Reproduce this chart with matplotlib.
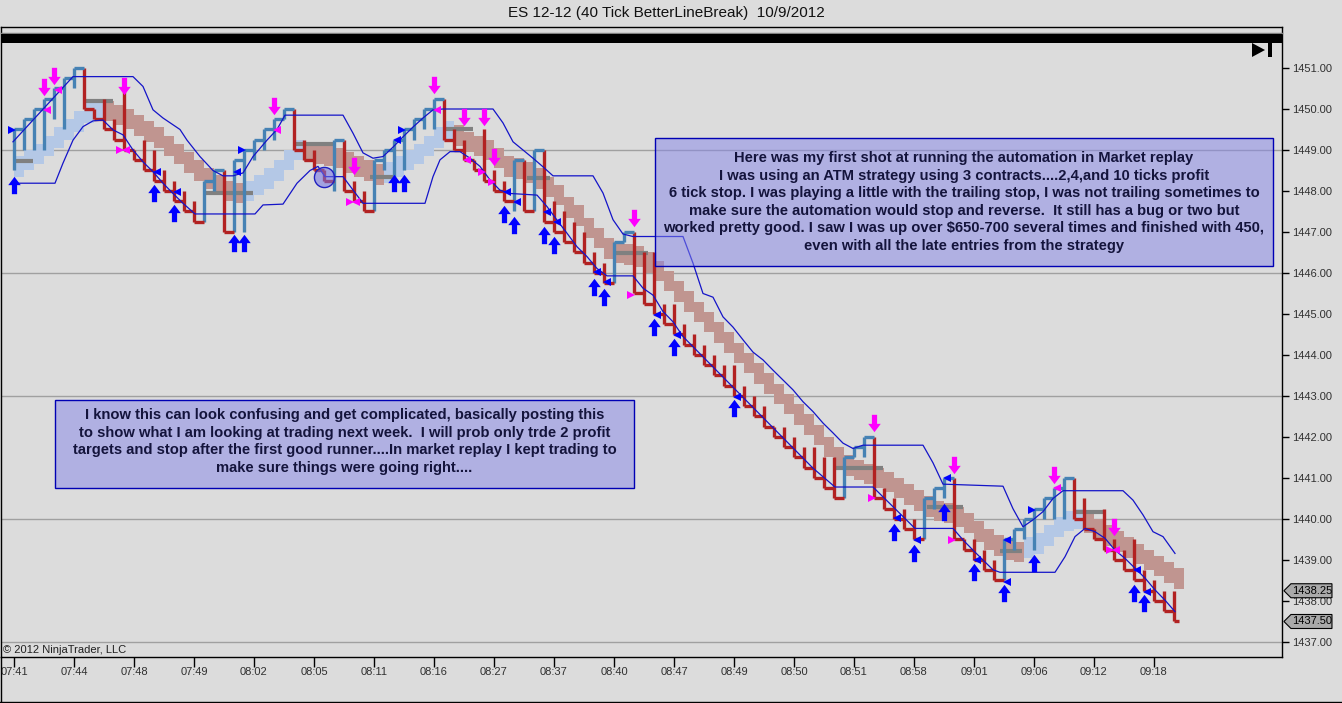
import matplotlib
matplotlib.use("Agg")
import matplotlib.pyplot as plt
import numpy as np
from matplotlib.path import Path
from matplotlib.patches import Rectangle, Polygon

plt.rcParams['font.family'] = ['Liberation Sans', 'DejaVu Sans']

# ---- data (one line-break bar per entry) ----
close = [1449.5, 1449.75, 1450.0, 1450.25, 1450.5, 1450.75, 1451.0, 1450.0, 1449.75, 1449.5,
         1449.25, 1449.0, 1448.75, 1448.5, 1448.25, 1448.0, 1447.75, 1447.5, 1447.25, 1448.25,
         1448.5, 1447.0, 1448.75, 1449.0, 1449.25, 1449.5, 1449.75, 1450.0, 1449.0, 1448.75,
         1448.5, 1448.25, 1449.25, 1448.0, 1447.75, 1447.5, 1448.75, 1449.0, 1449.25, 1449.5,
         1449.75, 1450.0, 1450.25, 1449.25, 1449.0, 1448.75, 1448.5, 1448.25, 1448.0, 1447.75,
         1448.75, 1447.5, 1449.0, 1447.25, 1447.0, 1446.75, 1446.5, 1446.25, 1446.0, 1445.75,
         1446.75, 1447.0, 1445.5, 1445.25, 1445.0, 1444.75, 1444.5, 1444.25, 1444.0, 1443.75,
         1443.5, 1443.25, 1443.0, 1442.75, 1442.5, 1442.25, 1442.0, 1441.75, 1441.5, 1441.25,
         1441.0, 1440.75, 1440.5, 1441.5, 1441.75, 1442.0, 1440.5, 1440.25, 1440.0, 1439.75,
         1439.5, 1440.5, 1440.75, 1441.0, 1439.5, 1439.25, 1439.0, 1438.75, 1438.5, 1439.5,
         1439.75, 1440.0, 1440.25, 1440.5, 1440.75, 1441.0, 1440.0, 1439.75, 1439.5, 1439.25,
         1439.0, 1438.75, 1438.5, 1438.25, 1438.0, 1437.75, 1437.5]
# other end of each bar (low for up bars, high for down bars)
extreme = [1448.5, 1449.0, 1449.0, 1449.0, 1449.75, 1449.5, 1450.5, 1451.0, 1450.0, 1450.25,
           1449.75, 1450.5, 1449.0, 1449.25, 1449.0, 1448.5, 1448.25, 1448.0, 1447.75, 1447.25,
           1448.0, 1448.5, 1447.0, 1447.0, 1448.75, 1449.0, 1449.25, 1449.75, 1450.0, 1449.25,
           1449.0, 1448.5, 1448.0, 1449.25, 1448.25, 1448.0, 1447.5, 1448.5, 1448.0, 1448.5,
           1449.25, 1449.5, 1449.5, 1450.25, 1449.5, 1449.25, 1448.75, 1449.5, 1448.5, 1448.25,
           1447.5, 1448.75, 1447.5, 1449.0, 1447.75, 1447.5, 1447.25, 1447.0, 1446.5, 1446.25,
           1445.75, 1446.75, 1447.0, 1446.5, 1446.5, 1445.25, 1445.25, 1444.75, 1444.5, 1444.25,
           1444.0, 1443.75, 1443.75, 1443.25, 1443.0, 1442.75, 1442.25, 1442.25, 1442.0, 1441.75,
           1441.75, 1441.5, 1441.5, 1440.5, 1441.5, 1441.5, 1442.0, 1440.75, 1440.5, 1440.25,
           1440.0, 1439.5, 1440.25, 1440.5, 1441.0, 1439.5, 1439.5, 1439.25, 1439.0, 1438.5,
           1439.25, 1439.5, 1439.25, 1440.0, 1440.0, 1440.0, 1441.0, 1440.5, 1439.75, 1440.25,
           1439.5, 1439.25, 1439.5, 1438.75, 1438.5, 1438.25, 1438.25]
# centre of the thick average band
band = [1448.6, 1448.75, 1448.9, 1449.1, 1449.3, 1449.5, 1449.7, 1449.9, 1450.0, 1449.95,
        1449.85, 1449.75, 1449.6, 1449.45, 1449.3, 1449.1, 1448.9, 1448.7, 1448.5, 1448.3,
        1448.15, 1448.0, 1447.95, 1448.0, 1448.15, 1448.3, 1448.5, 1448.75, 1449.0, 1448.95,
        1448.9, 1448.85, 1448.8, 1448.7, 1448.6, 1448.5, 1448.4, 1448.45, 1448.6, 1448.75,
        1448.9, 1449.1, 1449.3, 1449.45, 1449.35, 1449.2, 1449.1, 1449.0, 1448.8, 1448.6,
        1448.55, 1448.45, 1448.3, 1448.1, 1447.9, 1447.6, 1447.4, 1447.1, 1446.85, 1446.6,
        1446.5, 1446.45, 1446.4, 1446.25, 1446.05, 1445.8, 1445.55, 1445.3, 1445.05, 1444.8,
        1444.55, 1444.3, 1444.05, 1443.8, 1443.55, 1443.3, 1443.05, 1442.8, 1442.55, 1442.3,
        1442.05, 1441.75, 1441.5, 1441.3, 1441.2, 1441.1, 1441.0, 1440.9, 1440.75, 1440.6,
        1440.45, 1440.3, 1440.2, 1440.15, 1440.05, 1439.9, 1439.7, 1439.5, 1439.35, 1439.25,
        1439.2, 1439.3, 1439.4, 1439.6, 1439.8, 1439.95, 1440.0, 1439.9, 1439.75, 1439.6,
        1439.45, 1439.3, 1439.15, 1439.0, 1438.85, 1438.7, 1438.55]

# channel lines (bar position, price)
upper_x = [-0.1, 5.9, 11.9, 12.9, 13.9, 14.9, 16.6, 17.3, 18.6, 19.9, 20.9, 21.9, 22.9, 23.9,
           25.3, 26.3, 27.1, 32.9, 33.9, 34.9, 35.9, 36.9, 37.9, 38.9, 39.9, 40.9, 41.9, 42.9,
           47.9, 48.9, 49.9, 50.9, 51.9, 52.9, 53.9, 57.9, 58.9, 59.9, 60.9, 61.9, 66.9, 67.9,
           68.9, 69.9, 70.9, 71.9, 72.9, 73.9, 74.9, 75.9, 76.9, 77.9, 78.9, 79.9, 80.9, 81.9,
           82.9, 83.9, 84.9, 90.9, 91.9, 92.9, 98.9, 99.9, 100.9, 101.9, 102.9, 103.9, 104.9,
           110.9, 111.9, 112.9, 113.9, 114.9, 116.1]
upper_y = [1449.2, 1450.79, 1450.79, 1450.55, 1449.98, 1449.78, 1449.5, 1449.24, 1448.84, 1448.5,
           1448.37, 1448.37, 1448.44, 1448.84, 1449.24, 1449.5, 1449.85, 1449.85, 1449.41, 1448.93,
           1448.8, 1448.84, 1449.07, 1449.32, 1449.56, 1449.78, 1449.98, 1450.0, 1450.0, 1449.66,
           1449.2, 1449.0, 1448.8, 1448.59, 1448.37, 1448.37, 1447.95, 1447.3, 1446.95, 1446.89,
           1446.89, 1446.24, 1445.5, 1445.41, 1444.93, 1444.68, 1444.37, 1444.07, 1443.88, 1443.63,
           1443.39, 1443.15, 1442.86, 1442.62, 1442.34, 1442.1, 1441.85, 1441.72, 1441.8, 1441.8,
           1441.37, 1440.85, 1440.8, 1440.25, 1439.81, 1439.98, 1440.18, 1440.5, 1440.69, 1440.69,
           1440.46, 1440.1, 1439.69, 1439.57, 1439.16]
lower_x = [-0.1, 4.1, 4.9, 5.9, 6.9, 7.9, 8.9, 9.9, 10.9, 11.9, 12.9, 13.9, 14.9, 15.9, 16.9,
           18.1, 24.1, 24.9, 26.9, 28.3, 29.6, 30.4, 31.1, 32.9, 34.9, 41.1, 41.9, 42.6, 43.6,
           44.6, 45.6, 46.6, 47.6, 48.6, 49.6, 52.3, 53.3, 54.3, 55.3, 56.3, 57.3, 58.3, 59.3,
           61.9, 62.9, 63.9, 64.9, 65.9, 66.9, 79.9, 82.1, 85.9, 86.9, 87.9, 88.9, 90.1, 93.9,
           94.9, 95.9, 96.9, 97.9, 98.6, 104.1, 105.1, 106.1, 107.1, 108.1, 109.1, 110.1, 111.1,
           112.1, 113.1, 114.1, 115.1, 116.1]
lower_y = [1448.19, 1448.19, 1448.68, 1449.24, 1449.57, 1449.71, 1449.73, 1449.49, 1449.37, 1449.0,
           1448.71, 1448.47, 1448.19, 1447.94, 1447.7, 1447.44, 1447.44, 1447.66, 1447.68, 1448.19,
           1448.5, 1448.6, 1448.35, 1448.35, 1447.7, 1447.7, 1448.35, 1448.76, 1448.96, 1448.96,
           1448.8, 1448.6, 1448.27, 1448.02, 1447.94, 1447.9, 1447.62, 1447.29, 1446.97, 1446.64,
           1446.4, 1446.11, 1445.93, 1445.93, 1445.63, 1445.46, 1445.06, 1444.81, 1444.45, 1441.24,
           1440.78, 1440.78, 1440.54, 1440.3, 1440.06, 1439.77, 1439.77, 1439.49, 1439.24, 1439.0,
           1438.76, 1438.7, 1438.7, 1439.08, 1439.57, 1439.77, 1439.69, 1439.53, 1439.24, 1439.04,
           1438.8, 1438.56, 1438.27, 1438.02, 1437.74]

# thick gray level segments: start bar, end bar, price
gray_start = [0.1, 7.1, 19.1, 27.9, 35.6, 43.1, 51.3, 60.1, 82.1, 91.3, 98.6, 106.1]
gray_end = [1.9, 9.9, 23.9, 31.9, 37.9, 45.9, 53.6, 63.4, 86.9, 94.9, 100.8, 108.9]
gray_price = [1448.72, 1450.2, 1447.95, 1449.15, 1448.35, 1449.5, 1448.32, 1446.48, 1441.24,
              1440.3, 1439.22, 1440.17]

# signal arrows
sell_x = [3, 4, 11, 26, 34, 42, 45, 47, 48, 62, 86, 94, 104, 110]
sell_y = [1450.54, 1450.8, 1450.56, 1450.07, 1448.6, 1450.59, 1449.81, 1449.81, 1448.84, 1447.34,
          1442.34, 1441.32, 1441.07, 1439.81]
buy_x = [0, 14, 16, 22, 23, 38, 39, 49, 50, 53, 54, 58, 59, 64, 66, 72, 88, 90, 93, 96, 99, 102,
         112, 113]
buy_y = [1448.15, 1447.95, 1447.46, 1446.73, 1446.73, 1448.2, 1448.2, 1447.44, 1447.17, 1446.93,
         1446.68, 1445.66, 1445.41, 1444.68, 1444.2, 1442.7, 1439.68, 1439.17, 1440.17, 1438.7,
         1438.2, 1438.93, 1438.2, 1437.95]

# small execution triangles
fill_b_x = [-0.2, 14.3, 16.3, 22.3, 22.8, 38.3, 38.8, 49.3, 50.3, 53.3, 54.3, 58.3, 59.3, 64.3,
            66.3, 72.3, 88.3, 90.3, 93.3, 96.3, 99.3, 99.3, 101.8, 112.3, 113.3]
fill_b_y = [1449.49, 1448.46, 1447.98, 1448.46, 1449.0, 1449.24, 1449.49, 1447.98, 1447.73,
            1447.49, 1447.24, 1446.02, 1445.78, 1444.98, 1444.49, 1442.98, 1440.02, 1439.49,
            1441.0, 1439.0, 1439.49, 1438.46, 1440.22, 1438.76, 1438.22]
fill_b_dir = ['>', '<', '<', '<', '>', '<', '>', '<', '<', '<', '<', '<', '<', '<', '<', '<',
              '<', '<', '<', '<', '<', '<', '>', '<', '<']
fill_m_x = [3.3, 4.4, 10.6, 11.2, 26.3, 33.6, 34.2, 42.3, 45.3, 46.8, 47.8, 61.7, 85.8, 93.8,
            104.3, 109.6, 110.2]
fill_m_y = [1449.98, 1450.46, 1449.0, 1449.0, 1449.49, 1447.73, 1447.73, 1449.98, 1448.76,
            1448.46, 1448.22, 1445.46, 1440.51, 1439.49, 1440.76, 1439.24, 1439.24]
fill_m_dir = ['<', '<', '>', '<', '<', '>', '<', '<', '<', '>', '>', '>', '>', '>', '<', '>', '<']

circle_x, circle_y = 31.0, 1448.34

time_labels = ['07:41', '07:44', '07:48', '07:49', '08:02', '08:05', '08:11', '08:16', '08:27',
               '08:37', '08:40', '08:47', '08:49', '08:50', '08:51', '08:58', '09:01', '09:06',
               '09:12', '09:18']
grid_levels = [1437, 1440, 1443, 1446, 1449]
price_tags = [1438.25, 1437.50]

title = 'ES 12-12 (40 Tick BetterLineBreak)  10/9/2012'
note_right = ['Here was my first shot at running the automation in Market replay',
              'I was using an ATM strategy using 3 contracts....2,4,and 10 ticks profit',
              '6 tick stop. I was playing a little with the trailing stop, I was not trailing sometimes to',
              'make sure the automation would stop and reverse.  It still has a bug or two but',
              'worked pretty good. I saw I was up over $650-700 several times and finished with 450,',
              'even with all the late entries from the strategy']
note_left = ['I know this can look confusing and get complicated, basically posting this',
             'to show what I am looking at trading next week.  I will prob only trde 2 profit',
             'targets and stop after the first good runner....In market replay I kept trading to',
             'make sure things were going right....']

# ---- styling ----
BG = '#dcdcdc'
UP = '#4682b4'
DOWN = '#b22222'
BAND_UP = '#b4c8e6'
BAND_DN = '#c09590'
CHAN = '#1414c8'
MAG = '#ff00ff'
BUY = '#0000ff'

W, H = 1342, 703
fig = plt.figure(figsize=(W / 100, H / 100), dpi=100, facecolor=BG)


def fx(x):
    return x / W


def fy(y):
    return 1 - y / H


ax = fig.add_axes([fx(1), fy(657), (1282 - 1) / W, (657 - 27) / H])
ax.set_facecolor(BG)
ax.set_xlim(-1.3, 126.8)
ax.set_ylim(1436.634, 1452.0)

for lv in grid_levels:
    ax.axhline(lv, color='#a0a0a0', lw=1, zorder=0)

n = len(close)
xs = np.arange(n)
c = np.array(close)
e = np.array(extreme)
is_up = e < c
bar_col = np.where(is_up, UP, DOWN)

# average band
b = np.array(band)
band_rising = np.r_[True, np.diff(b) > 0]
ax.bar(xs, 0.5, bottom=b - 0.25, width=1.0, align='edge',
       color=np.where(band_rising, BAND_UP, BAND_DN), linewidth=0, zorder=1)

for s0, s1, p in zip(gray_start, gray_end, gray_price):
    ax.plot([s0, s1], [p, p], color='#808080', lw=3, solid_capstyle='butt', zorder=2)

# line break bars
ax.vlines(xs, np.minimum(c, e), np.maximum(c, e), colors=bar_col, lw=2.4, zorder=3)
tick_end = xs + 1.0
tick_end[-1] = xs[-1] + 0.5
ax.hlines(c, xs, tick_end, colors=bar_col, lw=2.4, zorder=3)

ax.plot(upper_x, upper_y, color=CHAN, lw=0.9, zorder=4)
ax.plot(lower_x, lower_y, color=CHAN, lw=0.9, zorder=4)

# arrow markers
down_arrow = Path([(-0.15, 0.5), (0.15, 0.5), (0.15, -0.02), (0.36, -0.02), (0.0, -0.5),
                   (-0.36, -0.02), (-0.15, -0.02), (-0.15, 0.5)], closed=True)
up_arrow = Path([(x, -y) for x, y in down_arrow.vertices], closed=True)
ax.plot(sell_x, sell_y, linestyle='none', marker=down_arrow, ms=12.5, color=MAG, mew=0, zorder=5)
ax.plot(buy_x, buy_y, linestyle='none', marker=up_arrow, ms=12.5, color=BUY, mew=0, zorder=5)

for x, y, d in zip(fill_b_x, fill_b_y, fill_b_dir):
    ax.plot(x, y, marker=d, ms=5.5, color=BUY, mew=0, zorder=5)
for x, y, d in zip(fill_m_x, fill_m_y, fill_m_dir):
    ax.plot(x, y, marker=d, ms=5.5, color=MAG, mew=0, zorder=5)

ax.plot(circle_x, circle_y, 'o', ms=14.5, mfc=(0.45, 0.45, 0.9, 0.55), mec='#2020c0', mew=1,
        zorder=5)

# axes
for sp in ax.spines.values():
    sp.set_color('black')
    sp.set_linewidth(1)
ax.yaxis.tick_right()
ax.set_yticks(range(1437, 1452))
ax.set_yticklabels([f'{v:.2f}' for v in range(1437, 1452)])
ax.tick_params(axis='y', direction='out', length=5, width=1, pad=2, labelsize=8,
               labelcolor='#303030')
ax.set_xticks(range(0, 6 * len(time_labels), 6))
ax.set_xticklabels(time_labels)
ax.tick_params(axis='x', direction='out', length=7, width=1, pad=0, labelsize=8,
               labelcolor='#303030')

# price tags on the right scale
tr = ax.get_yaxis_transform()
for p in price_tags:
    h = 7 / 41
    tag = Polygon([(1.0015, p), (1.0070, p + h), (1.0390, p + h), (1.0390, p - h), (1.0070, p - h)],
                  closed=True, transform=tr, facecolor='#a9a9a9', edgecolor='black', lw=0.8,
                  clip_on=False, zorder=6)
    ax.add_patch(tag)
    ax.text(1.0232, p, f'{p:.2f}', transform=tr, ha='center', va='center', fontsize=8,
            color='black', clip_on=False, zorder=7)

# top toolbar strip
fig.patches.append(Rectangle((fx(1), fy(43.3)), (1282 - 1) / W, 9.0 / H, transform=fig.transFigure,
                             facecolor='black', edgecolor='none', zorder=3))
fig.lines.append(plt.Line2D([fx(1), fx(1282)], [fy(33), fy(33)], transform=fig.transFigure,
                            color='#808080', lw=1))
fig.patches.append(Polygon([(fx(1252), fy(43)), (fx(1265), fy(50)), (fx(1252), fy(57))],
                           closed=True, transform=fig.transFigure, facecolor='black', zorder=3))
fig.patches.append(Rectangle((fx(1268), fy(57)), 4 / W, 15 / H, transform=fig.transFigure,
                             facecolor='black', zorder=3))

# outer frame bits
fig.lines.append(plt.Line2D([fx(1), fx(1)], [fy(657), fy(703)], transform=fig.transFigure,
                            color='black', lw=1))
fig.lines.append(plt.Line2D([0, 1], [fy(702), fy(702)], transform=fig.transFigure,
                            color='black', lw=1))

fig.text(fx(666), fy(13), title, ha='center', va='center', fontsize=11, color='#111111')
fig.text(fx(3), fy(650), '\u00a9 2012 NinjaTrader, LLC', ha='left', va='center', fontsize=8,
         color='#202020')


# annotation boxes
def note_box(x0, y0, x1, y1, lines, first_y, step):
    fig.patches.append(Rectangle((fx(x0), fy(y1)), (x1 - x0) / W, (y1 - y0) / H,
                                 transform=fig.transFigure, facecolor=(0.52, 0.52, 0.91, 0.5),
                                 edgecolor='#0000b4', lw=1, zorder=4))
    cx = (x0 + x1) / 2
    for k, line in enumerate(lines):
        fig.text(fx(cx), fy(first_y + k * step), line, ha='center', va='center', fontsize=10.6,
                 fontweight='bold', color='#14143c', zorder=5)


note_box(655, 138, 1273, 266, note_right, 158, 17.6)
note_box(55, 400, 634, 488, note_left, 415, 17.7)

fig.savefig('out.png', dpi=100, facecolor=BG)
